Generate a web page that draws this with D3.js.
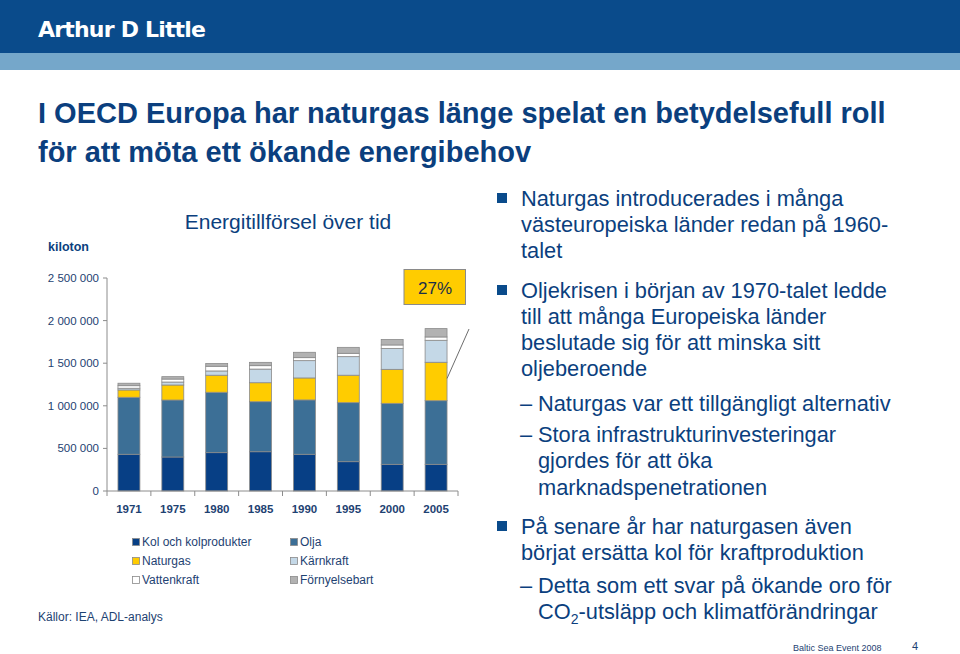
<!DOCTYPE html>
<html><head><meta charset="utf-8">
<script src="https://cdn.jsdelivr.net/npm/d3@7"></script>
<style>body{margin:0;background:#fff}svg{display:block;font-family:"Liberation Sans",Arial,sans-serif}</style>
</head><body><svg id="c" width="960" height="654"></svg>
<script>
const years = ["1971","1975","1980","1985","1990","1995","2000","2005"];
const kol      = [431000,399000,450000,461000,431000,344000,313000,313000];
const olja     = [669000,669000,709000,587000,638000,693000,716000,747000];
const naturgas = [ 86000,176000,200000,223000,258000,322000,399000,451000];
const karnkraft= [ 20000, 35000, 50000,160000,203000,218000,246000,258000];
const vatten   = [ 30000, 35000, 55000, 40000, 35000, 39000, 40000, 39000];
const fornybar = [ 29000, 28000, 32000, 39000, 63000, 70000, 65000, 98000];
const seriesNames = ["Kol och kolprodukter","Olja","Naturgas","Kärnkraft","Vattenkraft","Förnyelsebart"];
const yTicks = [0,500000,1000000,1500000,2000000,2500000];
const yTickLabels = ["0","500 000","1 000 000","1 500 000","2 000 000","2 500 000"];
const shareLabel = "27%";

const colors = ["#073f85","#3c6f96","#ffcc00","#c4d8e7","#ffffff","#b2b2b2"];
const blue = "#0b3f7e";
const svg = d3.select("#c");

// header
svg.append("rect").attr("x",0).attr("y",0).attr("width",960).attr("height",53).attr("fill","#0a4b8b");
svg.append("rect").attr("x",0).attr("y",53).attr("width",960).attr("height",17).attr("fill","#75a7ca");
svg.append("text").attr("x",38).attr("y",37).attr("fill","#fff").attr("font-size",22).attr("font-weight",900)
  .attr("font-family","'DejaVu Sans',sans-serif").attr("letter-spacing",-0.8).text("Arthur D Little");

// title
const title = ["I OECD Europa har naturgas länge spelat en betydelsefull roll","för att möta ett ökande energibehov"];
svg.selectAll("text.title").data(title).join("text").attr("class","title")
  .attr("x",38).attr("y",(d,i)=>123+i*39).attr("fill",blue).attr("font-size",29).attr("font-weight","bold").text(d=>d);

// chart
const x = d3.scaleBand().domain(years).range([107,458]).paddingInner(0.5).paddingOuter(0.25);
const y = d3.scaleLinear().domain([0,2500000]).range([491,278]);

svg.append("text").attr("x",288).attr("y",229).attr("text-anchor","middle").attr("fill",blue).attr("font-size",21).text("Energitillförsel över tid");
svg.append("text").attr("x",48).attr("y",251).attr("fill",blue).attr("font-size",12.5).attr("font-weight","bold").text("kiloton");

const data = years.map((yr,i)=>({year:yr,v:[kol[i],olja[i],naturgas[i],karnkraft[i],vatten[i],fornybar[i]]}));
const stack = d3.stack().keys(d3.range(6)).value((d,k)=>d.v[k]);
const layers = stack(data);

const g = svg.append("g");
layers.forEach((layer,k)=>{
  g.selectAll(null).data(layer).join("rect")
    .attr("x",d=>x(d.data.year)).attr("width",x.bandwidth())
    .attr("y",d=>y(d[1])).attr("height",d=>y(d[0])-y(d[1]))
    .attr("fill",colors[k]).attr("stroke","#8a8a8a").attr("stroke-width",0.8);
});

// axes
const axisColor="#8c8c8c";
svg.append("line").attr("x1",107).attr("x2",107).attr("y1",y(2500000)).attr("y2",y(0)).attr("stroke",axisColor);
svg.append("line").attr("x1",107).attr("x2",458).attr("y1",y(0)).attr("y2",y(0)).attr("stroke",axisColor);
svg.selectAll("line.yt").data(yTicks).join("line").attr("class","yt")
  .attr("x1",103).attr("x2",107).attr("y1",d=>y(d)).attr("y2",d=>y(d)).attr("stroke",axisColor);
svg.selectAll("text.yl").data(yTicks).join("text").attr("class","yl")
  .attr("x",99).attr("y",d=>y(d)+4).attr("text-anchor","end").attr("fill","#1e4272").attr("font-size",11.5)
  .text((d,i)=>yTickLabels[i]);
const bounds = years.map(d=>x(d)-x.step()*x.paddingInner()/2).concat([x(years[years.length-1])+x.bandwidth()+x.step()*x.paddingInner()/2]);
svg.selectAll("line.xt").data(bounds).join("line").attr("class","xt")
  .attr("x1",d=>d).attr("x2",d=>d).attr("y1",y(0)).attr("y2",y(0)+5).attr("stroke",axisColor);
svg.selectAll("text.xl").data(years).join("text").attr("class","xl")
  .attr("x",d=>x(d)+x.bandwidth()/2).attr("y",513).attr("text-anchor","middle").attr("fill","#1e4272")
  .attr("font-size",11.5).attr("font-weight","bold").text(d=>d);

// 27% callout
const last = layers[2][years.length-1];
svg.append("line").attr("x1",469).attr("y1",329).attr("x2",x("2005")+x.bandwidth()).attr("y2",y((last[0]+last[1])/2)-3)
  .attr("stroke","#6d6d6d").attr("stroke-width",1);
svg.append("rect").attr("x",404).attr("y",269.5).attr("width",61.5).attr("height",35).attr("fill","#ffcc00").attr("stroke","#8a8a8a");
svg.append("text").attr("x",435).attr("y",294).attr("text-anchor","middle").attr("fill","#1a2f4a").attr("font-size",17).text(shareLabel);

// legend
const legPos = [[132,538],[290,538],[132,557],[290,557],[132,576],[290,576]];
seriesNames.forEach((n,k)=>{
  const [lx,ly]=legPos[k];
  svg.append("rect").attr("x",lx+0.5).attr("y",ly+0.5).attr("width",7).attr("height",7).attr("fill",colors[k]).attr("stroke","#8a8a8a").attr("stroke-width",0.8);
  svg.append("text").attr("x",lx+10).attr("y",ly+7.5).attr("fill","#1e4272").attr("font-size",12).text(n);
});
svg.append("text").attr("x",38).attr("y",621).attr("fill","#1e4272").attr("font-size",12).text("Källor: IEA, ADL-analys");

// bullets
const fs=21.8;
const lines = [
 {t:"Naturgas introducerades i många", y:206, b:"sq"},
 {t:"västeuropeiska länder redan på 1960-", y:232},
 {t:"talet", y:258},
 {t:"Oljekrisen i början av 1970-talet ledde", y:298, b:"sq"},
 {t:"till att många Europeiska länder", y:324},
 {t:"beslutade sig för att minska sitt", y:350},
 {t:"oljeberoende", y:376},
 {t:"Naturgas var ett tillgängligt alternativ", y:411, b:"dash"},
 {t:"Stora infrastrukturinvesteringar", y:442, b:"dash"},
 {t:"gjordes för att öka", y:468, sub:true},
 {t:"marknadspenetrationen", y:495, sub:true},
 {t:"På senare år har naturgasen även", y:534, b:"sq"},
 {t:"börjat ersätta kol för kraftproduktion", y:560},
 {t:"Detta som ett svar på ökande oro för", y:593, b:"dash"},
 {t:"CO2", y:619, sub:true, co2:true}
];
lines.forEach(l=>{
  const isSub = l.sub || l.b==="dash";
  const tx = isSub ? 538 : 521;
  if(l.b==="sq") svg.append("rect").attr("x",497).attr("y",l.y-13).attr("width",10).attr("height",10).attr("fill","#0a4b8b");
  if(l.b==="dash") svg.append("text").attr("x",520).attr("y",l.y).attr("fill",blue).attr("font-size",fs).text("–");
  const t = svg.append("text").attr("x",tx).attr("y",l.y).attr("fill",blue).attr("font-size",fs);
  if(l.co2){
    t.append("tspan").text("CO");
    t.append("tspan").attr("font-size",14).attr("dy",5).text("2");
    t.append("tspan").attr("dy",-5).text("-utsläpp och klimatförändringar");
  } else t.text(l.t);
});

// footer
svg.append("text").attr("x",793).attr("y",651).attr("fill","#1e4272").attr("font-size",9).text("Baltic Sea Event 2008");
svg.append("text").attr("x",912).attr("y",650).attr("fill","#1e4272").attr("font-size",11).text("4");
</script></body></html>
